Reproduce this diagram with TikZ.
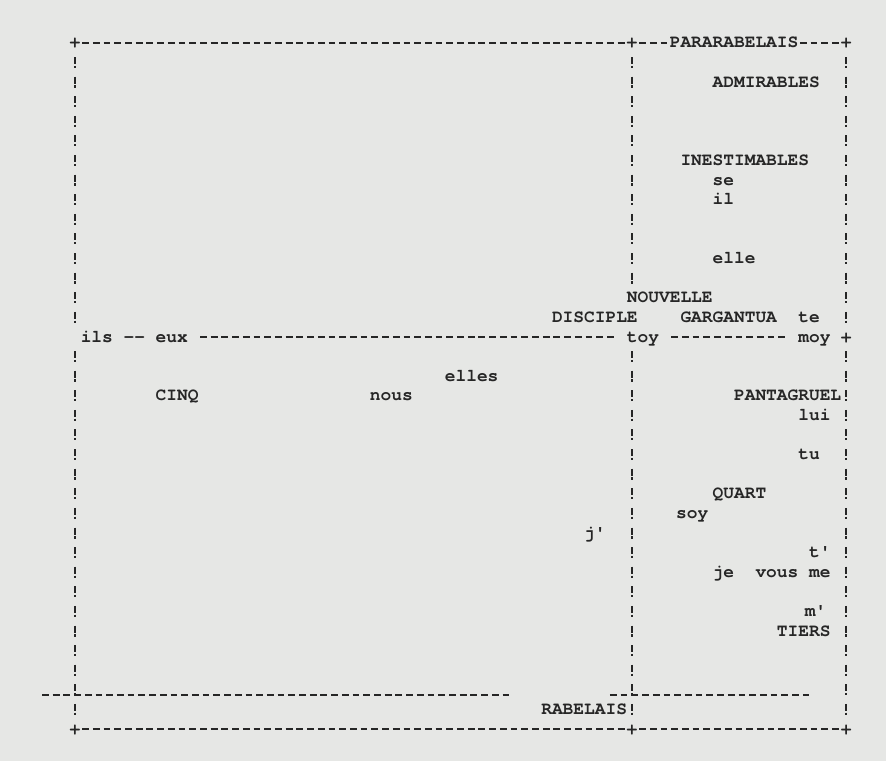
\documentclass[tikz,border=0pt]{standalone}
\usepackage{xcolor}
\usepackage{fontspec}
\usepackage{tikz}
\setmonofont{TeX Gyre Cursor}
\newcommand\typo{\ttfamily\bfseries\fontsize{8.925pt}{10pt}\selectfont}
\definecolor{ink}{HTML}{262626}
\definecolor{fond}{HTML}{E6E7E5}
\tikzset{
  mot/.style={anchor=base west, inner sep=0pt, font=\typo, text=ink},
  croix/.style={anchor=base, inner sep=0pt, font=\typo, text=ink},
  tiret/.style={draw=ink, line width=1pt, dash pattern=on 3.4pt off 1.955pt},
  barre/.style={draw=ink, line width=1.1pt, dash pattern=on 3.5pt off 0.9pt on 1.1pt off 4.3pt},
}
\begin{document}
\begin{tikzpicture}[x=5.355pt, y=-9.8pt]
\fill[fond] (-7.003,-2.194) rectangle (75.723,36.633);
\useasboundingbox (-7.003,-2.194) rectangle (75.723,36.633);

% croisements du cadre
\foreach \c/\r/\n in {0/0/hg, 52/0/hm, 72/0/hd, 72/15/md, 0/35/bg, 52/35/bm, 72/35/bd}
  \node[croix] (\n) at (\c,\r+0.255) {+};

% lignes horizontales
\draw[tiret] (0.673,0) -- (51.327,0);
\draw[tiret] (52.673,0) -- (55.327,0);
\draw[tiret] (67.673,0) -- (71.327,0);
\draw[tiret] (11.673,15) -- (50.327,15);
\draw[tiret] (55.673,15) -- (66.327,15);
\draw[tiret] (-3.08,33.27) -- (40.8,33.27);
\draw[tiret] (49.95,33.27) -- (68.53,33.27);
\draw[tiret] (0.673,35) -- (51.327,35);
\draw[tiret] (52.673,35) -- (71.327,35);

% lignes verticales
\draw[barre] (0,0.719) -- (0,14.281);
\draw[barre] (0,15.719) -- (0,34.281);
\draw[barre] (52,0.719) -- (52,12.281);
\draw[barre] (52,15.719) -- (52,34.281);
\draw[barre] (72,0.719) -- (72,14.281);
\draw[barre] (72,15.719) -- (72,34.281);

% mots
\node[mot] (pararabelais) at (55.5,0.255) {PARARABELAIS};
\node[mot] (admirables) at (59.5,2.255) {ADMIRABLES};
\node[mot] (inestimables) at (56.5,6.255) {INESTIMABLES};
\node[mot] (se) at (59.5,7.255) {se};
\node[mot] (il) at (59.5,8.255) {il};
\node[mot] (elle) at (59.5,11.255) {elle};
\node[mot] (nouvelle) at (51.5,13.255) {NOUVELLE};
\node[mot] (disciple) at (44.5,14.255) {DISCIPLE};
\node[mot] (gargantua) at (56.5,14.255) {GARGANTUA};
\node[mot] (te) at (67.5,14.255) {te};
\node[mot] (ils) at (0.5,15.255) {ils -\kern0pt- eux};
\node[mot] (toy) at (51.5,15.255) {toy};
\node[mot] (moy) at (67.5,15.255) {moy};
\node[mot] (elles) at (34.5,17.255) {elles};
\node[mot] (cinq) at (7.5,18.255) {CINQ};
\node[mot] (nous) at (27.5,18.255) {nous};
\node[mot] (pantagruel) at (61.5,18.255) {PANTAGRUEL};
\node[mot] (lui) at (67.5,19.255) {lui};
\node[mot] (tu) at (67.5,21.255) {tu};
\node[mot] (quart) at (59.5,23.255) {QUART};
\node[mot] (soy) at (56.1,24.255) {soy};
\node[mot] (jap) at (47.5,25.255) {j'};
\node[mot] (tap) at (68.5,26.255) {t'};
\node[mot] (je) at (59.5,27.255) {je};
\node[mot] (vous) at (63.5,27.255) {vous};
\node[mot] (me) at (68.5,27.255) {me};
\node[mot] (map) at (68.1,29.255) {m'};
\node[mot] (tiers) at (65.5,30.255) {TIERS};
\node[mot] (rabelais) at (43.5,34.255) {RABELAIS};
\end{tikzpicture}
\end{document}
